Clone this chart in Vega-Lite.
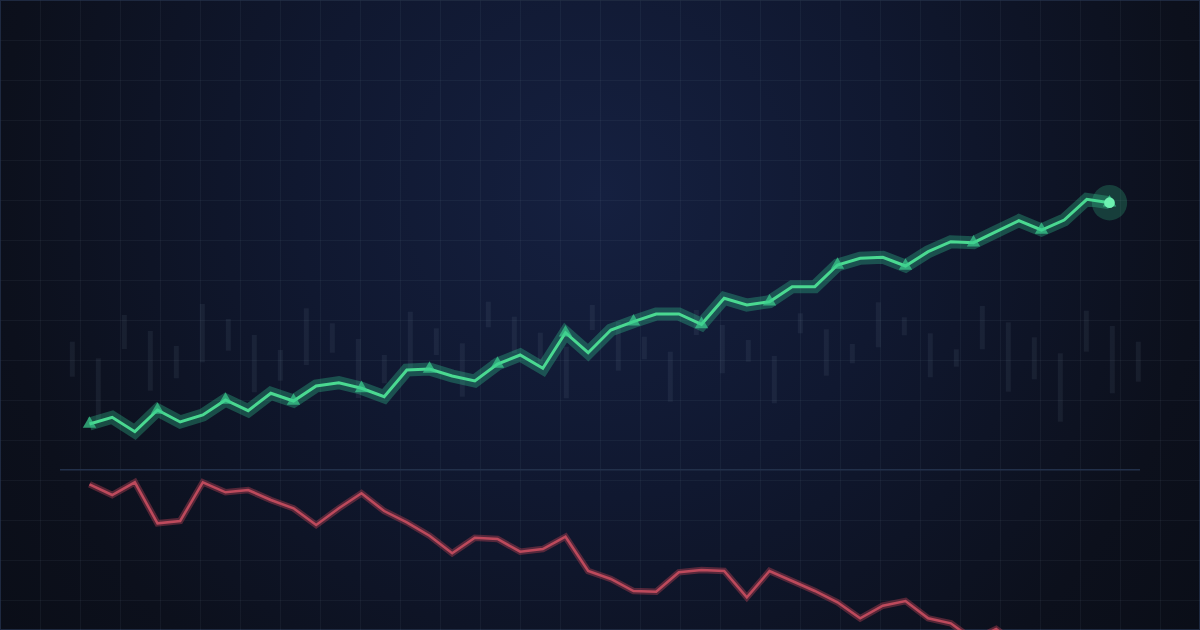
{
  "$schema": "https://vega.github.io/schema/vega-lite/v6.json",
  "width": 1200,
  "height": 630,
  "autosize": {"type": "fit", "contains": "padding"},
  "padding": 0,
  "background": "#0a0d16",
  "config": {
    "view": {
      "stroke": "#1e2940",
      "strokeWidth": 2,
      "fill": {
        "gradient": "radial",
        "x1": 0.5, "y1": 0.4, "r1": 0,
        "x2": 0.5, "y2": 0.4, "r2": 0.72,
        "stops": [
          {"offset": 0, "color": "#152040"},
          {"offset": 0.35, "color": "#101830"},
          {"offset": 0.7, "color": "#0c101c"},
          {"offset": 1, "color": "#090c14"}
        ]
      }
    }
  },
  "datasets": {
    "series": [
      {"t": 0, "price": 20.6, "ind": 14.57},
      {"t": 1, "price": 21.27, "ind": 13.5},
      {"t": 2, "price": 19.83, "ind": 14.77},
      {"t": 3, "price": 22.0, "ind": 10.67},
      {"t": 4, "price": 20.8, "ind": 10.9},
      {"t": 5, "price": 21.5, "ind": 14.77},
      {"t": 6, "price": 23.0, "ind": 13.77},
      {"t": 7, "price": 21.93, "ind": 14.0},
      {"t": 8, "price": 23.67, "ind": 13.0},
      {"t": 9, "price": 22.9, "ind": 12.17},
      {"t": 10, "price": 24.4, "ind": 10.5},
      {"t": 11, "price": 24.73, "ind": 12.17},
      {"t": 12, "price": 24.17, "ind": 13.67},
      {"t": 13, "price": 23.33, "ind": 11.9},
      {"t": 14, "price": 26.0, "ind": 10.77},
      {"t": 15, "price": 26.1, "ind": 9.43},
      {"t": 16, "price": 25.4, "ind": 7.67},
      {"t": 17, "price": 24.9, "ind": 9.23},
      {"t": 18, "price": 26.6, "ind": 9.1},
      {"t": 19, "price": 27.5, "ind": 7.83},
      {"t": 20, "price": 26.17, "ind": 8.1},
      {"t": 21, "price": 29.73, "ind": 9.33},
      {"t": 22, "price": 27.73, "ind": 5.9},
      {"t": 23, "price": 30.0, "ind": 5.1},
      {"t": 24, "price": 30.83, "ind": 3.9},
      {"t": 25, "price": 31.6, "ind": 3.83},
      {"t": 26, "price": 31.6, "ind": 5.77},
      {"t": 27, "price": 30.57, "ind": 6.0},
      {"t": 28, "price": 33.17, "ind": 5.9},
      {"t": 29, "price": 32.5, "ind": 3.27},
      {"t": 30, "price": 32.83, "ind": 5.9},
      {"t": 31, "price": 34.33, "ind": 4.9},
      {"t": 32, "price": 34.33, "ind": 3.9},
      {"t": 33, "price": 36.5, "ind": 2.77},
      {"t": 34, "price": 37.17, "ind": 1.17},
      {"t": 35, "price": 37.27, "ind": 2.43},
      {"t": 36, "price": 36.4, "ind": 2.9},
      {"t": 37, "price": 37.83, "ind": 1.17},
      {"t": 38, "price": 38.83, "ind": 0.67},
      {"t": 39, "price": 38.73, "ind": -1.0},
      {"t": 40, "price": 39.83, "ind": 0.1},
      {"t": 41, "price": 40.93, "ind": -1.6},
      {"t": 42, "price": 40.0, "ind": -1.0},
      {"t": 43, "price": 41.0, "ind": -2.2},
      {"t": 44, "price": 43.07, "ind": -2.6},
      {"t": 45, "price": 42.73, "ind": -3.2}
    ],
    "bars": [
      {"j": 0, "hi": 28.83, "lo": 25.33},
      {"j": 1, "hi": 27.17, "lo": 21.0},
      {"j": 2, "hi": 31.5, "lo": 28.1},
      {"j": 3, "hi": 29.9, "lo": 23.93},
      {"j": 4, "hi": 28.4, "lo": 25.17},
      {"j": 5, "hi": 32.6, "lo": 26.77},
      {"j": 6, "hi": 31.1, "lo": 27.93},
      {"j": 7, "hi": 29.5, "lo": 23.77},
      {"j": 8, "hi": 28.0, "lo": 24.93},
      {"j": 9, "hi": 32.17, "lo": 26.5},
      {"j": 10, "hi": 30.67, "lo": 27.73},
      {"j": 11, "hi": 29.1, "lo": 23.2},
      {"j": 12, "hi": 27.5, "lo": 24.67},
      {"j": 13, "hi": 31.83, "lo": 26.17},
      {"j": 14, "hi": 30.17, "lo": 27.5},
      {"j": 15, "hi": 28.67, "lo": 23.33},
      {"j": 16, "hi": 32.83, "lo": 30.27},
      {"j": 17, "hi": 31.33, "lo": 27.67},
      {"j": 18, "hi": 29.73, "lo": 26.6},
      {"j": 19, "hi": 28.33, "lo": 23.17},
      {"j": 20, "hi": 32.5, "lo": 30.0},
      {"j": 21, "hi": 30.83, "lo": 25.93},
      {"j": 22, "hi": 29.33, "lo": 27.07},
      {"j": 23, "hi": 27.83, "lo": 22.83},
      {"j": 24, "hi": 32.0, "lo": 29.5},
      {"j": 25, "hi": 30.5, "lo": 25.67},
      {"j": 26, "hi": 29.0, "lo": 26.83},
      {"j": 27, "hi": 27.4, "lo": 22.67},
      {"j": 28, "hi": 31.67, "lo": 29.67},
      {"j": 29, "hi": 30.07, "lo": 25.43},
      {"j": 30, "hi": 28.6, "lo": 26.67},
      {"j": 31, "hi": 32.77, "lo": 28.27},
      {"j": 32, "hi": 31.27, "lo": 29.47},
      {"j": 33, "hi": 29.67, "lo": 25.27},
      {"j": 34, "hi": 28.07, "lo": 26.33},
      {"j": 35, "hi": 32.4, "lo": 28.07},
      {"j": 36, "hi": 30.77, "lo": 23.83},
      {"j": 37, "hi": 29.27, "lo": 25.07},
      {"j": 38, "hi": 27.67, "lo": 20.83},
      {"j": 39, "hi": 31.93, "lo": 27.83},
      {"j": 40, "hi": 30.4, "lo": 23.67},
      {"j": 41, "hi": 28.83, "lo": 24.83}
    ],
    "divider": [
      {"level": 16.025, "start": -1.3014, "end": 46.3456}
    ]
  },
  "resolve": {"scale": {"x": "independent"}},
  "layer": [
    {
      "data": {"name": "bars"},
      "mark": {"type": "rule", "strokeWidth": 5, "strokeCap": "butt", "color": "#94a3b8", "opacity": 0.09},
      "encoding": {
        "x": {"field": "j", "type": "quantitative", "scale": {"domain": [-2.781, 43.373], "nice": false, "zero": false}, "axis": null},
        "y": {"field": "hi", "type": "quantitative", "scale": {"domain": [0, 63], "nice": false, "zero": false},
              "axis": {"values": [59, 55, 51, 47, 43, 39, 35, 31, 27, 23, 19, 15, 11, 7, 3], "grid": true, "labels": false, "ticks": false, "domain": false, "title": null, "gridColor": "#94a3b8", "gridOpacity": 0.07, "gridWidth": 1, "minExtent": 0, "maxExtent": 0}},
        "y2": {"field": "lo"}
      }
    },
    {
      "layer": [
        {
          "data": {"name": "divider"},
          "mark": {"type": "rule", "color": "#22304a", "strokeWidth": 1.5},
          "encoding": {
            "y": {"field": "level", "type": "quantitative"},
            "x": {"field": "start", "type": "quantitative"},
            "x2": {"field": "end"}
          }
        },
        {
          "data": {"name": "series"},
          "mark": {"type": "line", "color": "#9c3a4c", "strokeWidth": 6.5, "opacity": 0.5, "clip": true, "strokeJoin": "miter"},
          "encoding": {
            "x": {"field": "t", "type": "quantitative"},
            "y": {"field": "ind", "type": "quantitative"}
          }
        },
        {
          "data": {"name": "series"},
          "mark": {"type": "line", "color": "#bd4a5c", "strokeWidth": 2.5, "clip": true, "strokeJoin": "miter"},
          "encoding": {
            "x": {"field": "t", "type": "quantitative"},
            "y": {"field": "ind", "type": "quantitative"}
          }
        },
        {
          "data": {"name": "series"},
          "mark": {"type": "line", "color": "#34d399", "strokeWidth": 13, "opacity": 0.3, "strokeJoin": "miter"},
          "encoding": {
            "x": {"field": "t", "type": "quantitative"},
            "y": {"field": "price", "type": "quantitative"}
          }
        },
        {
          "data": {"name": "series"},
          "mark": {"type": "line", "color": "#4ad991", "strokeWidth": 3, "strokeJoin": "miter"},
          "encoding": {
            "x": {"field": "t", "type": "quantitative"},
            "y": {"field": "price", "type": "quantitative"}
          }
        },
        {
          "data": {"name": "series"},
          "transform": [{"filter": "datum.t % 3 == 0"}],
          "mark": {"type": "point", "shape": "triangle", "filled": true, "size": 180, "color": "#3ccf8e", "opacity": 0.7},
          "encoding": {
            "x": {"field": "t", "type": "quantitative"},
            "y": {"field": "price", "type": "quantitative"}
          }
        },
        {
          "data": {"name": "series"},
          "transform": [{"filter": "datum.t == 45"}],
          "mark": {"type": "circle", "size": 1250, "color": "#3ddc97", "opacity": 0.22},
          "encoding": {
            "x": {"field": "t", "type": "quantitative"},
            "y": {"field": "price", "type": "quantitative"}
          }
        },
        {
          "data": {"name": "series"},
          "transform": [{"filter": "datum.t == 45"}],
          "mark": {"type": "circle", "size": 115, "color": "#6ef2b1", "opacity": 1},
          "encoding": {
            "x": {"field": "t", "type": "quantitative"},
            "y": {"field": "price", "type": "quantitative"}
          }
        }
      ],
      "encoding": {
        "x": {"type": "quantitative", "scale": {"domain": [-3.9485, 48.9926], "nice": false, "zero": false},
              "axis": {"values": [-2.1838, -0.4191, 1.3456, 3.1103, 4.875, 6.6397, 8.4044, 10.1692, 11.9339, 13.6986, 15.4633, 17.228, 18.9927, 20.7574, 22.5221, 24.2868, 26.0515, 27.8162, 29.5809, 31.3456, 33.1103, 34.875, 36.6397, 38.4044, 40.1692, 41.9339, 43.6986, 45.4633, 47.228], "grid": true, "labels": false, "ticks": false, "domain": false, "title": null, "gridColor": "#94a3b8", "gridOpacity": 0.07, "gridWidth": 1, "minExtent": 0, "maxExtent": 0}}
      }
    }
  ]
}
